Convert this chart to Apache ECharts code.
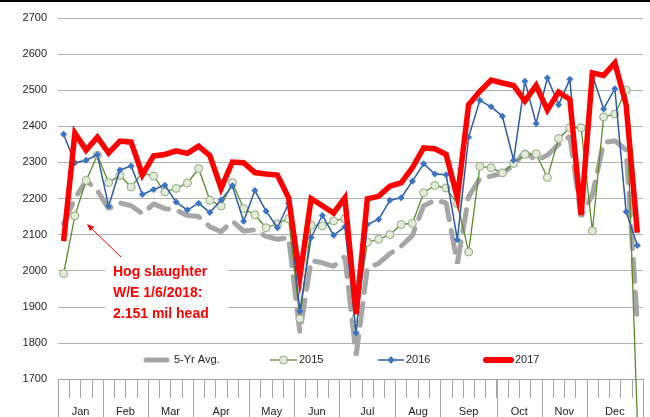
<!DOCTYPE html>
<html><head><meta charset="utf-8">
<script src="https://cdn.jsdelivr.net/npm/echarts@6/dist/echarts.min.js"></script>
<style>html,body{margin:0;padding:0;background:#fff}#c{width:650px;height:417px}</style>
</head><body><div id="c"></div>
<script>
const weeks = ['1','2','3','4','5','6','7','8','9','10','11','12','13','14','15','16','17','18','19','20','21','22','23','24','25','26','27','28','29','30','31','32','33','34','35','36','37','38','39','40','41','42','43','44','45','46','47','48','49','50','51','52'];
const months = ['Jan','Feb','Mar','Apr','May','Jun','Jul','Aug','Sep','Oct','Nov','Dec'];
const monthWeeks = [4,4,4,5,4,4,5,4,5,4,4,5];
const yTicks = [1700,1800,1900,2000,2100,2200,2300,2400,2500,2600,2700];
const avg5 = [2130,2200,2250,2222,2172,2188,2180,2158,2185,2172,2168,2153,2150,2122,2108,2137,2110,2113,2095,2087,2092,1830,2028,2022,2012,2040,1765,2008,2020,2047,2068,2097,2180,2195,2188,2020,2205,2255,2262,2270,2292,2330,2305,2320,2350,2372,2150,2210,2355,2360,2335,1855];
const y2015 = [1992,2152,2250,2320,2244,2264,2232,2271,2262,2218,2228,2243,2283,2195,2179,2244,2172,2155,2119,2130,2144,1867,2126,2124,2138,2144,1870,2079,2087,2100,2128,2131,2216,2236,2229,2186,2052,2289,2285,2271,2297,2322,2324,2258,2366,2396,2396,2110,2426,2434,2500,1580];
const y2016 = [2378,2299,2306,2321,2179,2279,2290,2211,2225,2237,2190,2168,2187,2161,2196,2235,2137,2222,2165,2119,2186,1888,2092,2153,2098,2122,1828,2128,2142,2195,2202,2248,2296,2268,2266,2086,2370,2472,2454,2428,2306,2525,2408,2534,2460,2530,2165,2542,2448,2504,2163,2070];
const y2017 = [2082,2381,2334,2370,2326,2359,2356,2266,2318,2322,2332,2325,2345,2319,2228,2301,2299,2272,2268,2265,2202,1983,2200,2180,2160,2202,1880,2199,2206,2234,2243,2285,2340,2338,2322,2202,2460,2497,2528,2520,2513,2470,2513,2445,2495,2474,2154,2548,2541,2576,2460,2105];
const seriesNames = ['5-Yr Avg.','2015','2016','2017'];
const noteText = 'Hog slaughter\nW/E 1/6/2018:\n2.151 mil head';

const bounds = [0]; monthWeeks.forEach(w => bounds.push(bounds[bounds.length-1] + w));
const centers = months.map((m,i) => (bounds[i] + bounds[i+1]) / 2);

const FONT = 'Liberation Sans, Arial, sans-serif';
const C_AVG = '#a6a6a6', C15 = '#5b8c2a', C16 = '#2d5aa0', C17 = '#ff0000';
const LY = 360;
const legendG = [
  {type:'line', shape:{x1:146,y1:LY,x2:167,y2:LY}, style:{stroke:C_AVG,lineWidth:5,lineCap:'round'}},
  {type:'text', x:174, y:LY, style:{text:seriesNames[0], fill:'#222', font:'11px '+FONT, verticalAlign:'middle'}},
  {type:'line', shape:{x1:270,y1:LY,x2:297,y2:LY}, style:{stroke:C15,lineWidth:1.3}},
  {type:'circle', shape:{cx:283.5,cy:LY,r:4}, style:{fill:'#e2ebd8',stroke:'#93a884',lineWidth:1}},
  {type:'text', x:299, y:LY, style:{text:seriesNames[1], fill:'#222', font:'11px '+FONT, verticalAlign:'middle'}},
  {type:'line', shape:{x1:378,y1:LY,x2:404,y2:LY}, style:{stroke:C16,lineWidth:1.5}},
  {type:'polygon', shape:{points:[[391,LY-4],[394.5,LY],[391,LY+4],[387.5,LY]]}, style:{fill:'#3b74c6'}},
  {type:'text', x:406, y:LY, style:{text:seriesNames[2], fill:'#222', font:'11px '+FONT, verticalAlign:'middle'}},
  {type:'line', shape:{x1:486,y1:LY,x2:511,y2:LY}, style:{stroke:C17,lineWidth:6,lineCap:'round'}},
  {type:'text', x:515, y:LY, style:{text:seriesNames[3], fill:'#222', font:'11px '+FONT, verticalAlign:'middle'}}
].map(g => Object.assign(g, {z: 100}));

const chart = echarts.init(document.getElementById('c'), null, {renderer:'canvas'});
chart.setOption({
  animation: false,
  backgroundColor: '#fff',
  grid: {left: 58, right: 7, top: 18, bottom: 38, containLabel: false},
  xAxis: [
    {type: 'category', data: weeks, boundaryGap: true,
     axisLine: {show: true, lineStyle: {color: '#a6a6a6', width: 1}},
     axisTick: {show: true, interval: 0, length: 19, lineStyle: {color: '#a6a6a6'}},
     axisLabel: {show: false}, splitLine: {show: false}},
    {type: 'value', min: 0, max: 52, position: 'bottom',
     axisLine: {show: false}, splitLine: {show: false},
     axisTick: {show: true, customValues: bounds, length: 40, lineStyle: {color: '#a6a6a6'}},
     axisLabel: {show: true, customValues: centers, margin: 27, fontSize: 11, fontFamily: FONT, color: '#222',
       formatter: v => { const i = centers.findIndex(c => Math.abs(c - v) < 0.01); return i >= 0 ? months[i] : ''; }}}
  ],
  yAxis: {
    type: 'value', min: yTicks[0], max: yTicks[yTicks.length-1], interval: 100,
    axisLine: {show: false}, axisTick: {show: false},
    axisLabel: {margin: 11, fontSize: 11, fontFamily: FONT, color: '#222', formatter: v => String(v)},
    splitLine: {lineStyle: {color: '#b0b0b0', width: 1}}
  },
  series: [
    {name: seriesNames[0], type: 'line', data: avg5, symbol: 'none',
     lineStyle: {color: C_AVG, width: 5, type: [22, 11], cap: 'round'}, z: 2},
    {name: seriesNames[1], type: 'line', data: y2015, symbol: 'circle', symbolSize: 8, showSymbol: true, showAllSymbol: true, clip: false,
     lineStyle: {color: C15, width: 1.3},
     itemStyle: {color: '#e2ebd8', borderColor: '#93a884', borderWidth: 1}, z: 3},
    {name: seriesNames[2], type: 'line', data: y2016, symbol: 'diamond', symbolSize: 7, showAllSymbol: true,
     lineStyle: {color: C16, width: 1.5},
     itemStyle: {color: '#3b74c6'}, z: 4},
    {name: seriesNames[3], type: 'line', data: y2017, symbol: 'none',
     lineStyle: {color: C17, width: 5.5, join: 'miter'}, z: 5}
  ],
  graphic: [
    {type: 'rect', shape: {x: 0, y: 0, width: 650, height: 2}, style: {fill: '#000'}, z: 100},
    {type: 'rect', shape: {x: 105, y: 258, width: 123, height: 72}, style: {fill: '#fff'}, z: 90},
    {type: 'text', x: 113, y: 262, z: 100,
     style: {text: noteText, fill: '#ff0000', font: 'bold 14px ' + FONT, lineHeight: 21}},
    {type: 'line', shape: {x1: 121, y1: 257, x2: 92, y2: 229}, style: {stroke: '#ff0000', lineWidth: 1}, z: 100},
    {type: 'polygon', shape: {points: [[87,224],[94.1,226.8],[89.9,231.0]]}, style: {fill: '#ff0000'}, z: 100}
  ].concat(legendG)
});
</script></body></html>
